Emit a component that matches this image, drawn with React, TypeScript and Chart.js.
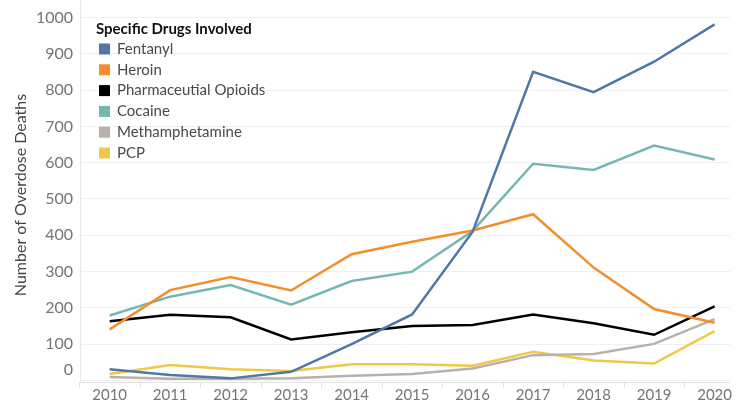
import React, { useEffect, useRef } from "react";
import { Chart, registerables } from "chart.js";

Chart.register(...registerables);

const years = [2010, 2011, 2012, 2013, 2014, 2015, 2016, 2017, 2018, 2019, 2020];
const seriesNames = ["Fentanyl", "Heroin", "Pharmaceutial Opioids", "Cocaine", "Methamphetamine", "PCP"];
const seriesColors = ["#4e79a7", "#f28e2b", "#000000", "#76b7b2", "#bab0ac", "#edc948"];
const fentanyl = [31, 15, 6, 24, 100, 182, 410, 850, 794, 878, 981];
const heroin = [141, 249, 285, 248, 348, 382, 413, 458, 311, 197, 159];
const pharma = [163, 181, 174, 113, 133, 150, 153, 182, 158, 126, 204];
const cocaine = [179, 231, 263, 209, 274, 300, 412, 597, 580, 647, 609];
const meth = [10, 5, 5, 6, 13, 18, 33, 70, 73, 101, 169];
const pcp = [18, 43, 31, 26, 45, 45, 41, 79, 55, 47, 136];
const yTicks = [0, 100, 200, 300, 400, 500, 600, 700, 800, 900, 1000];
const yTitle = "Number of Overdose Deaths";
const legendTitle = "Specific Drugs Involved";

const seriesValues = [fentanyl, heroin, pharma, cocaine, meth, pcp];

const overlay = {
  id: "overlay",
  afterDraw(chart: any) {
    const ctx = chart.ctx;
    const y = chart.scales.y;
    const x = chart.scales.x;
    const area = chart.chartArea;
    ctx.save();
    // y tick labels
    ctx.font = "16px Lato";
    ctx.fillStyle = "#757575";
    ctx.textAlign = "right";
    ctx.textBaseline = "middle";
    yTicks.forEach((v) => {
      let py = y.getPixelForValue(v);
      if (v === 0) py -= 11;
      ctx.fillText(String(v), 73, py);
    });
    // x tick marks between years
    ctx.strokeStyle = "#e2e2e2";
    ctx.lineWidth = 1;
    for (let i = 0; i < years.length; i++) {
      const px = Math.round(x.getPixelForValue(years[i] - 0.5)) + 0.5;
      ctx.beginPath();
      ctx.moveTo(px, area.bottom);
      ctx.lineTo(px, area.bottom + 6);
      ctx.stroke();
    }
    // y title
    ctx.save();
    ctx.translate(21, 195);
    ctx.rotate(-Math.PI / 2);
    ctx.font = "16px Lato";
    ctx.fillStyle = "#444";
    ctx.textAlign = "center";
    ctx.textBaseline = "middle";
    ctx.fillText(yTitle, 0, 0);
    ctx.restore();
    // legend
    ctx.textAlign = "left";
    ctx.textBaseline = "middle";
    ctx.font = "bold 15px Lato";
    ctx.fillStyle = "#111";
    ctx.fillText(legendTitle, 96, 29);
    ctx.font = "15px Lato";
    seriesNames.forEach((name, i) => {
      const cy = 49 + i * 20.8;
      ctx.fillStyle = seriesColors[i];
      ctx.fillRect(99, cy - 5.5, 11, 11);
      ctx.fillStyle = "#4a4a4a";
      ctx.fillText(name, 117, cy);
    });
    ctx.restore();
  },
};

export default function App() {
  const ref = useRef<HTMLCanvasElement>(null);
  useEffect(() => {
    document.body.style.margin = "0";
    const chart = new Chart(ref.current!, {
      type: "line",
      data: {
        datasets: seriesNames.map((name, i) => ({
          label: name,
          data: years.map((yr, j) => ({ x: yr, y: seriesValues[i][j] })),
          borderColor: seriesColors[i],
          backgroundColor: seriesColors[i],
          borderWidth: 2.5,
          pointRadius: 0,
          tension: 0,
          fill: false,
        })),
      },
      options: {
        responsive: false,
        animation: false,
        layout: { padding: 0 },
        plugins: { legend: { display: false }, tooltip: { enabled: false } },
        scales: {
          x: {
            type: "linear",
            min: 2009.51,
            max: 2020.26,
            afterBuildTicks: (s: any) => {
              s.ticks = years.map((v) => ({ value: v }));
            },
            afterFit: (s: any) => {
              s.height = 21;
            },
            grid: { display: false, drawTicks: false },
            border: { display: true, color: "#e2e2e2" },
            ticks: {
              autoSkip: false,
              maxRotation: 0,
              padding: 4,
              color: "#757575",
              font: { family: "Lato", size: 15 },
              callback: (v: any) => String(v),
            },
          },
          y: {
            type: "linear",
            min: -4,
            max: 1048,
            afterBuildTicks: (s: any) => {
              s.ticks = yTicks.map((v) => ({ value: v }));
            },
            afterFit: (s: any) => {
              s.width = 80;
            },
            grid: { color: "#f0f0f0", drawTicks: false },
            border: { display: true, color: "#e8e8e8" },
            ticks: { display: false },
          },
        },
      },
      plugins: [overlay],
    });
    return () => chart.destroy();
  }, []);
  return (
    <div style={{ position: "fixed", left: 0, top: 0, width: 736, height: 403, background: "#fff" }}>
      <canvas ref={ref} width={736} height={403} style={{ width: 736, height: 403 }} />
    </div>
  );
}
